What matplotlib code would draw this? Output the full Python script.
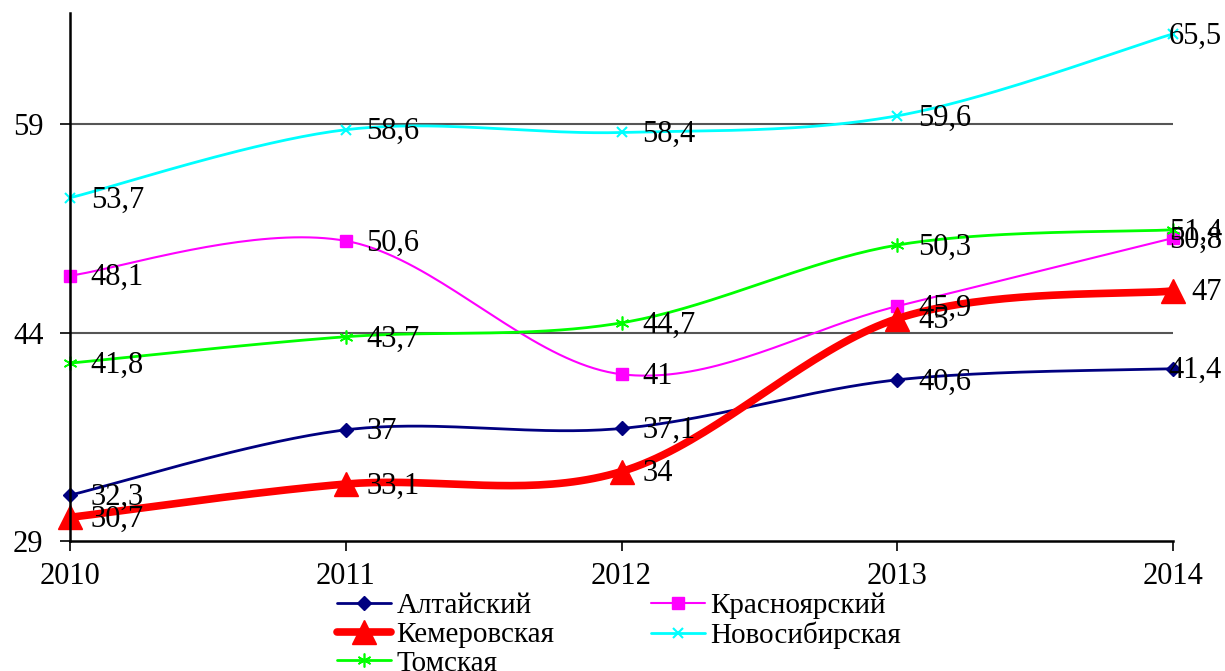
import numpy as np
import matplotlib
matplotlib.use("Agg")
import matplotlib.pyplot as plt

plt.rcParams['font.family'] = ['Liberation Serif', 'DejaVu Serif']

years = [2010, 2011, 2012, 2013, 2014]
altai = [32.3, 37, 37.1, 40.6, 41.4]
krasnoyarsk = [48.1, 50.6, 41, 45.9, 50.8]
kemerovo = [30.7, 33.1, 34, 45, 47]
novosibirsk = [53.7, 58.6, 58.4, 59.6, 65.5]
tomsk = [41.8, 43.7, 44.7, 50.3, 51.4]

series = [
    ("Алтайский", altai, dict(color="#000080", lw=2, marker="D", ms=7)),
    ("Красноярский", krasnoyarsk, dict(color="#FF00FF", lw=1.5, marker="s", ms=8)),
    ("Кемеровская", kemerovo, dict(color="#FF0000", lw=5.5, marker="^", ms=17)),
    ("Новосибирская", novosibirsk, dict(color="#00FFFF", lw=2, marker="x", ms=7, mew=1.5)),
    ("Томская", tomsk, dict(color="#00FF00", lw=2, marker=(6, 2, 0), ms=10, mew=1.2)),
]


def smooth(xs, ys, n=40):
    # Excel-like smoothing: cubic Bezier with Catmull-Rom control points
    p = np.column_stack([xs, ys]).astype(float)
    pts = np.vstack([p[0], p, p[-1]])
    t = np.linspace(0, 1, n, endpoint=False)[:, None]
    out = []
    for i in range(len(p) - 1):
        p0, p1, p2, p3 = pts[i], pts[i + 1], pts[i + 2], pts[i + 3]
        c1 = p1 + (p2 - p0) / 6
        c2 = p2 - (p3 - p1) / 6
        seg = ((1 - t) ** 3) * p1 + 3 * ((1 - t) ** 2) * t * c1 + 3 * (1 - t) * t ** 2 * c2 + t ** 3 * p2
        out.append(seg)
    out.append(p[-1][None, :])
    c = np.vstack(out)
    return c[:, 0], c[:, 1], [i * n for i in range(len(p))]


fig = plt.figure(figsize=(12.25, 6.71), dpi=100)
ax = fig.add_axes([70 / 1225, 130 / 671, 1103 / 1225, 528 / 671])

handles = {}
texts = []
for name, vals, st in series:
    sx, sy, idx = smooth(years, vals)
    ln, = ax.plot(sx, sy, color=st["color"], lw=st["lw"], marker=st["marker"],
                  ms=st["ms"], mew=st.get("mew", 1), markevery=idx,
                  solid_capstyle="round", label=name, clip_on=False)
    handles[name] = ln
    for x, v in zip(years, vals):
        lbl = f"{v:g}".replace(".", ",")
        t = ax.annotate(lbl, (x, v), xytext=(15, -1.5), textcoords="offset points",
                        va="center", ha="left", fontsize=22, color="black")
        texts.append(t)

ax.set_xlim(2010, 2014)
ax.set_ylim(29, 67)
ax.set_xticks(years)
ax.set_yticks([29, 44, 59])
ax.tick_params(labelsize=22, direction="out", length=7, width=1.2)
ax.tick_params(axis="y", pad=12)
ax.tick_params(axis="x", pad=8)
for yv in [44, 59]:
    ax.axhline(yv, color="#555555", lw=1.5, zorder=0)
for s in ["top", "right"]:
    ax.spines[s].set_visible(False)
for s in ["left", "bottom"]:
    ax.spines[s].set_linewidth(1.8)

order = ["Алтайский", "Кемеровская", "Томская", "Красноярский", "Новосибирская"]
fig.legend([handles[k] for k in order], order, loc="lower center",
           bbox_to_anchor=(619 / 1225, -0.03), ncol=2, frameon=False,
           fontsize=21, labelspacing=0.08, handlelength=1.85, handletextpad=0.2,
           columnspacing=3.3, borderpad=0)

# keep labels at the last point inside the figure, like the original
fig.canvas.draw()
r = fig.canvas.get_renderer()
W = fig.bbox.width
for t in texts:
    bb = t.get_window_extent(r)
    if bb.x1 > W - 3:
        dx = (bb.x1 - (W - 3)) * 72 / fig.dpi
        ox, oy = t.xyann
        t.xyann = (ox - dx, oy)

fig.savefig("out.png", dpi=100)
